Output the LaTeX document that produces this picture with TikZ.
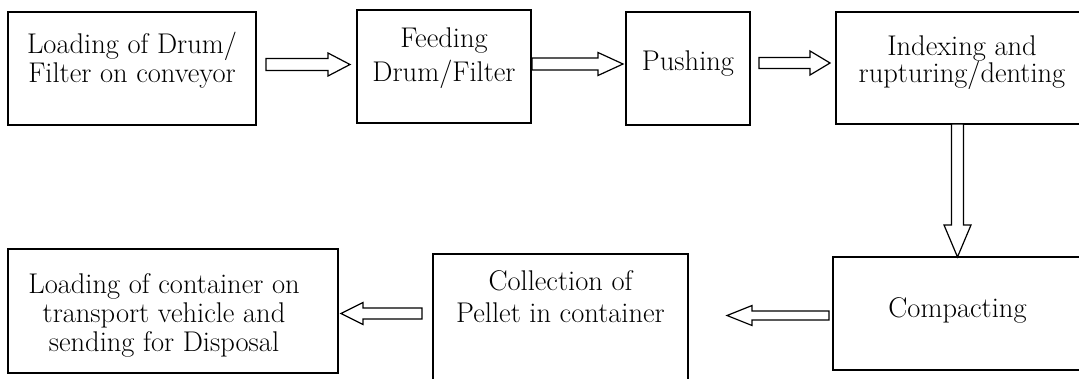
\documentclass[tikz,border=0pt]{standalone}
\usetikzlibrary{calc}

\tikzset{
  box/.style={draw, line width=1.3pt, inner sep=0pt, outer sep=0pt, anchor=north west,
              font=\fontsize{28.5}{29}\selectfont},
  hollowarrow/.style={draw, line width=1.2pt, line join=miter, fill=white},
}

% text block of a process box: width, height, first baseline, left offset, lines
\newcommand\boxtext[5]{%
  \parbox[c][#2pt][t]{#1pt}{\centering\leftskip=0pt plus 1fil\rightskip=#4pt plus 1fil\relax
  \rule{0pt}{#3pt}#5}}

% block arrow: start, tip, shaft half-width, head half-width, head length
\newcommand\hollow[5]{%
  \path ($(#2)!#5!(#1)$) coordinate (hb);
  \draw[hollowarrow] ($(#1)!#3!90:(#2)$) -- ($(hb)!#3!90:(#2)$) -- ($(hb)!#4!90:(#2)$)
    -- (#2) -- ($(hb)!#4!-90:(#2)$) -- ($(hb)!#3!-90:(#2)$) -- ($(#1)!#3!-90:(#2)$) -- cycle;}

\begin{document}
\begin{tikzpicture}[x=1pt, y=-1pt]
  \useasboundingbox (0,0) rectangle (1079,378);
  \fill[white] (0,0) rectangle (1079,378);
  \clip (0,0) rectangle (1079,378);

  % process steps
  \node[box] (b1) at (8,12)   {\boxtext{248}{113}{41}{0}{Loading of Drum/\\Filter on conveyor}};
  \node[box] (b2) at (357,10) {\boxtext{174}{113}{37}{0}{Feeding\\[5pt]Drum/Filter}};
  \node[box] (b3) at (626,12) {\boxtext{124}{113}{58}{0}{Pushing}};
  \node[box] (b4) at (836,12) {\boxtext{252}{112}{43}{0}{Indexing and\\[-2pt]rupturing/denting}};
  \node[box] (b5) at (833,257) {\boxtext{249}{113}{60}{0}{Compacting}};
  \node[box] (b6) at (433,254) {\boxtext{255}{130}{36}{0}{Collection of\\[3pt]Pellet in container}};
  \node[box] (b7) at (8,249)  {\boxtext{330}{124}{44}{18}{Loading of container on\\transport vehicle and\\sending for Disposal}};

  % arrow end points
  \coordinate (a1s) at ($(b1.east)+(10,-4)$);
  \coordinate (a1t) at ($(b2.west)+(-7,-2)$);
  \coordinate (a2s) at ($(b2.east)+(1,-2.5)$);
  \coordinate (a2t) at ($(b3.west)+(-3,-4.5)$);
  \coordinate (a3s) at ($(b3.east)+(9,-5.5)$);
  \coordinate (a3t) at ($(b4.west)+(-6,-5)$);
  \coordinate (a4s) at (b4.south -| b5.north);
  \coordinate (a4t) at (b5.north);
  \coordinate (a5s) at ($(b5.west)+(-4,2)$);
  \coordinate (a5t) at ($(b6.east)+(39,-3.5)$);
  \coordinate (a6s) at ($(b6.west)+(-11,-5.5)$);
  \coordinate (a6t) at ($(b7.east)+(3,2.5)$);

  % flow arrows
  \hollow{a1s}{a1t}{6pt}{11.5pt}{22pt}
  \hollow{a2s}{a2t}{6pt}{11.5pt}{25pt}
  \hollow{a3s}{a3t}{5.5pt}{12pt}{20pt}
  \hollow{a4s}{a4t}{6pt}{13.5pt}{32pt}
  \hollow{a5s}{a5t}{4.5pt}{10pt}{25pt}
  \hollow{a6s}{a6t}{5.5pt}{11pt}{22pt}
\end{tikzpicture}
\end{document}
